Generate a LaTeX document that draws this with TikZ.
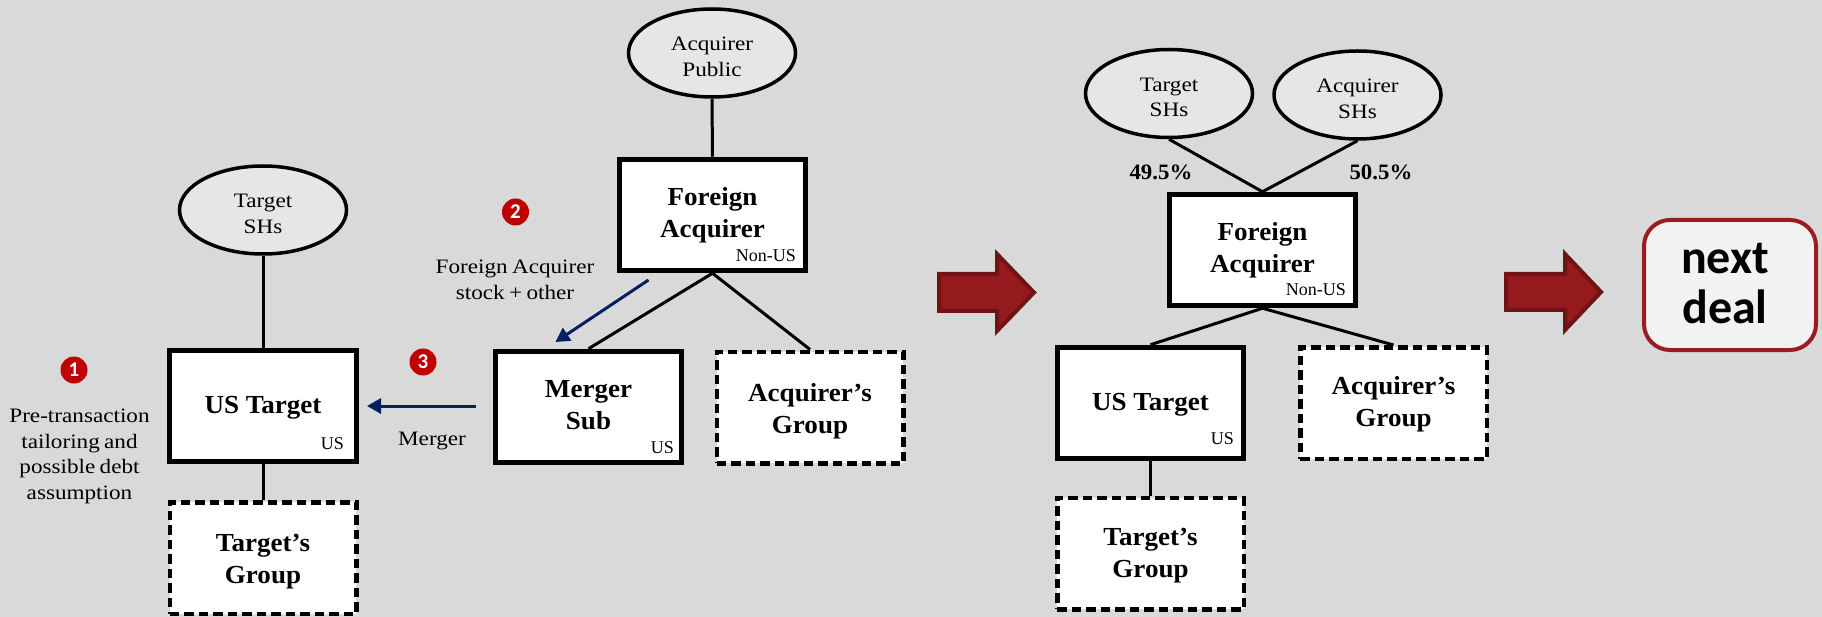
\documentclass[tikz,border=0pt]{standalone}
\usepackage{fontspec}
\usetikzlibrary{arrows.meta,calc,shapes.geometric}
\setmainfont{Liberation Serif}[FakeStretch=1.13,UprightFeatures={WordSpace=0.75},BoldFeatures={FakeStretch=1.04}]
\newfontfamily\nextf{Carlito}
\newfontfamily\tagf{Liberation Serif}
\newcommand{\topgap}[1]{\rule{0pt}{#1pt}}
\newcommand{\botgap}[1]{\rule[-#1pt]{0pt}{#1pt}}
\definecolor{bgc}{HTML}{D9D9D9}
\definecolor{ellc}{HTML}{E6E6E6}
\definecolor{redc}{HTML}{951A1D}
\definecolor{redd}{HTML}{6F1315}
\definecolor{numc}{HTML}{C00000}
\definecolor{navyc}{HTML}{002060}
\definecolor{dealc}{HTML}{9B1C20}
\definecolor{dealf}{HTML}{F2F2F2}
\tikzset{
  boxbase/.style={rectangle,fill=white,draw=black,inner sep=0pt,minimum width=186.5pt,minimum height=111.5pt,align=center,font=\bfseries\fontsize{26}{32}\selectfont},
  solidbox/.style={boxbase,line width=5pt},
  dashbox/.style={boxbase,line width=4.5pt,dash pattern=on 9.5pt off 5pt},
  holder/.style={ellipse,fill=ellc,draw=black,line width=3.5pt,inner sep=0pt,minimum width=167pt,minimum height=88pt,align=center,font=\fontsize{20.5}{25.5}\selectfont},
  tag/.style={anchor=east,inner sep=0pt,font=\tagf\fontsize{18}{20}\selectfont},
  note/.style={align=center,inner sep=0pt,font=\fontsize{20.5}{25.7}\selectfont},
  pct/.style={inner sep=0pt,font=\bfseries\fontsize{22}{24}\selectfont},
  numdot/.style={circle,fill=numc,inner sep=0pt,minimum size=27pt,text=white,font=\nextf\bfseries\fontsize{21}{21}\selectfont},
  tie/.style={draw=black,line width=3pt},
  flow/.style={draw=navyc,line width=3pt,-{Triangle[length=14pt,width=15pt]}},
  bigarrow/.style={fill=redc,draw=redd,line width=4pt,miter limit=10},
}
\begin{document}
\begin{tikzpicture}[x=1pt,y=-1pt]
\useasboundingbox (0,0) rectangle (1822,617);
\fill[bgc] (0,0) rectangle (1822,617);
% left structure
\node[holder] (tsh) at (263,210) {\topgap{21}Target\\SHs};
\node[solidbox] (ust) at (263,406) {\topgap{20}US Target};
\node[dashbox] (tgr) at (263,558) {\topgap{24}Target’s\\Group};
\node[holder] (apu) at (712,53) {\topgap{21}Acquirer\\Public};
\node[solidbox] (fac) at (712.5,215) {Foreign\\Acquirer};
\node[solidbox] (msb) at (588.5,407) {Merger\\Sub\botgap{4}};
\node[dashbox] (agr) at (810,407.5) {\topgap{26}Acquirer’s\\Group};
\node[tag] (t1) at (344,444) {US};
\node[tag] (t2) at (796,256) {Non-US};
\node[tag] (t3) at (674,448) {US};
\draw[tie] (tsh.south) -- (ust.north);
\draw[tie] (ust.south) -- (tgr.north);
\draw[tie] (apu.south) -- (fac.north);
\draw[tie] (fac.south) -- (msb.north);
\draw[tie] (fac.south) -- (agr.north);
\node[numdot] (n1) at (74,370) {1};
\node[numdot] (n2) at (515.5,212) {2};
\node[numdot] (n3) at (423,362) {3};
\node[note] (l1) at (79.5,456.5) {Pre-transaction\\tailoring and\\possible debt\\assumption};
\node[note] (l2) at (515,280) {Foreign Acquirer\\stock + other};
\node[note] (l3) at (432,441) {Merger};
\coordinate (a2s) at (648.5,280);
\coordinate (a2e) at (555.5,342);
\coordinate (a3s) at (476,406);
\coordinate (a3e) at (367,406);
\draw[flow] (a2s) -- (a2e);
\draw[flow] (a3s) -- (a3e);
% big arrows
\draw[bigarrow] (939,274) -- (997,274) -- (997,254) -- (1034,292.5) -- (997,331) -- (997,311) -- (939,311) -- cycle;
\draw[bigarrow] (1506,274) -- (1565,274) -- (1565,254) -- (1601,292) -- (1565,330) -- (1565,310) -- (1506,310) -- cycle;
% right structure
\node[holder] (tsr) at (1169,93.5) {\topgap{21}Target\\SHs};
\node[holder] (asr) at (1357.5,95) {\topgap{21}Acquirer\\SHs};
\node[solidbox] (far) at (1262.5,250) {Foreign\\Acquirer};
\node[solidbox] (usr) at (1150.5,403) {\topgap{20}US Target};
\node[dashbox] (agq) at (1393.5,403) {\topgap{20}Acquirer’s\\Group};
\node[dashbox] (tgq) at (1150.5,553.5) {\topgap{22}Target’s\\Group};
\node[tag] (t4) at (1346,290) {Non-US};
\node[tag] (t5) at (1234,439) {US};
\node[pct] (p1) at (1161,172) {49.5\%};
\node[pct] (p2) at (1381,172) {50.5\%};
\draw[tie] (tsr.south) -- (far.north);
\draw[tie] (asr.south) -- (far.north);
\draw[tie] (far.south) -- (usr.north);
\draw[tie] (far.south) -- (agq.north);
\draw[tie] (usr.south) -- (tgq.north);
% next deal
\node[rectangle,rounded corners=26pt,fill=dealf,draw=dealc,line width=4pt,minimum width=172pt,minimum height=130pt,inner sep=0pt,align=center,font=\nextf\bfseries\fontsize{48}{50}\selectfont] (nd) at (1730,285) {next\hspace*{10pt}\\deal\hspace*{10pt}\botgap{4}};
\end{tikzpicture}
\end{document}
